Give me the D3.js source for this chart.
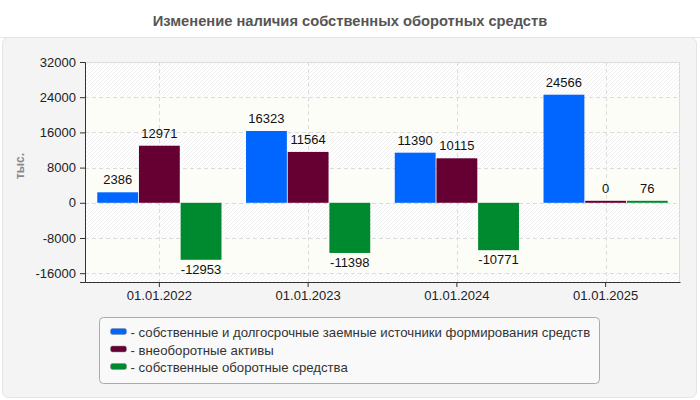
<!DOCTYPE html>
<html lang="ru">
<head>
<meta charset="UTF-8"/>
<title>Изменение наличия собственных оборотных средств</title>
<script src="https://d3js.org/d3.v7.min.js"></script>
<style>
    body { margin: 0; background: #fff; }
    svg { font-family: "Liberation Sans", Arial, sans-serif; display: block; }
</style>
</head>
<body>
<div id="chart"></div>
<script>
    // Data
    const dates = ["01.01.2022", "01.01.2023", "01.01.2024", "01.01.2025"];
    const seriesNames = [
        "собственные и долгосрочные заемные источники формирования средств",
        "внеоборотные активы",
        "собственные оборотные средства"
    ];
    const sourcesValues = [2386, 16323, 11390, 24566];
    const assetsValues = [12971, 11564, 10115, 0];
    const workingValues = [-12953, -11398, -10771, 76];
    const yTicks = [32000, 24000, 16000, 8000, 0, -8000, -16000];

    const colors = ["#0066ff", "#660033", "#008a30"];
    const allSeries = [sourcesValues, assetsValues, workingValues];

    const w = 700, h = 400;
    const margin = { top: 62, right: 20, bottom: 118, left: 85 };
    const innerW = 680 - margin.left;
    const innerH = 282 - margin.top;

    const svg = d3.select("#chart").append("svg")
        .attr("width", w)
        .attr("height", h);

    // hatch pattern for alternating bands
    const defs = svg.append("defs");
    const pat = defs.append("pattern")
        .attr("id", "hatch")
        .attr("patternUnits", "userSpaceOnUse")
        .attr("width", 4).attr("height", 4);
    pat.append("rect").attr("width", 4).attr("height", 4).attr("fill", "#ffffff");
    pat.append("path")
        .attr("d", "M-1,1 l2,-2 M0,4 l4,-4 M3,5 l2,-2")
        .attr("stroke", "#f0f0f0")
        .attr("stroke-width", 1);

    // outer panel
    svg.append("rect")
        .attr("x", 2.5).attr("y", 37.5)
        .attr("width", 694).attr("height", 360)
        .attr("rx", 6)
        .attr("fill", "#f4f4f4")
        .attr("stroke", "#e4e4e4");
    svg.append("line")
        .attr("x1", 0).attr("x2", w)
        .attr("y1", 37.5).attr("y2", 37.5)
        .attr("stroke", "#e4e4e4");

    // title
    svg.append("text")
        .attr("x", w / 2)
        .attr("y", 26)
        .attr("text-anchor", "middle")
        .attr("font-size", "14.7px")
        .attr("font-weight", "bold")
        .attr("fill", "#555")
        .text("Изменение наличия собственных оборотных средств");

    const chart = svg.append("g")
        .attr("transform", `translate(${margin.left}, ${margin.top})`);

    const x0 = d3.scaleBand()
        .domain(dates)
        .range([0, innerW])
        .paddingInner(0.165)
        .paddingOuter(0.0825);

    const x1 = d3.scaleBand()
        .domain(d3.range(allSeries.length))
        .range([0, x0.bandwidth()])
        .paddingInner(0.02);

    const y = d3.scaleLinear()
        .domain([-18000, 32000])
        .range([innerH, 0]);

    // background bands
    const bandEdges = [32000, 24000, 16000, 8000, 0, -8000, -16000, -18000];
    chart.selectAll(".band")
        .data(d3.pairs(bandEdges))
        .enter()
        .append("rect")
        .attr("class", "band")
        .attr("x", 0)
        .attr("y", d => y(d[0]))
        .attr("width", innerW)
        .attr("height", d => y(d[1]) - y(d[0]))
        .attr("fill", (d, i) => i % 2 === 0 ? "url(#hatch)" : "#fdfdf8");

    chart.append("line")
        .attr("x1", 0).attr("x2", innerW)
        .attr("y1", 0.5).attr("y2", 0.5)
        .attr("stroke", "#dcdcdc");
    chart.append("line")
        .attr("x1", innerW - 0.5).attr("x2", innerW - 0.5)
        .attr("y1", 0).attr("y2", innerH)
        .attr("stroke", "#dcdcdc");

    // dashed grid
    chart.selectAll(".hgrid")
        .data(yTicks.filter(t => t !== 32000))
        .enter()
        .append("line")
        .attr("class", "hgrid")
        .attr("x1", 0).attr("x2", innerW)
        .attr("y1", d => Math.round(y(d)) + 0.5)
        .attr("y2", d => Math.round(y(d)) + 0.5)
        .attr("stroke", "#dcdcdc")
        .attr("stroke-dasharray", "4,3");

    chart.selectAll(".vgrid")
        .data(dates)
        .enter()
        .append("line")
        .attr("class", "vgrid")
        .attr("x1", d => Math.round(x0(d) + x0.bandwidth() / 2) + 0.5)
        .attr("x2", d => Math.round(x0(d) + x0.bandwidth() / 2) + 0.5)
        .attr("y1", 0).attr("y2", innerH)
        .attr("stroke", "#dcdcdc")
        .attr("stroke-dasharray", "4,3");

    // bars
    const barData = [];
    dates.forEach((d, i) => {
        allSeries.forEach((s, j) => {
            barData.push({ date: d, series: j, value: s[i] });
        });
    });

    const barTop = d => d.value >= 0 ? Math.min(y(d.value), y(0) - 2) : y(0);
    const barBottom = d => d.value >= 0 ? y(0) : y(d.value);

    chart.selectAll(".bar")
        .data(barData)
        .enter()
        .append("rect")
        .attr("class", "bar")
        .attr("x", d => x0(d.date) + x1(d.series))
        .attr("y", barTop)
        .attr("width", x1.bandwidth())
        .attr("height", d => barBottom(d) - barTop(d))
        .attr("fill", d => colors[d.series]);

    chart.selectAll(".value-label")
        .data(barData)
        .enter()
        .append("text")
        .attr("class", "value-label")
        .attr("x", d => x0(d.date) + x1(d.series) + x1.bandwidth() / 2)
        .attr("y", d => d.value >= 0 ? barTop(d) - 8 : barBottom(d) + 14)
        .attr("text-anchor", "middle")
        .attr("font-size", "13px")
        .attr("fill", "#111")
        .text(d => String(d.value));

    // axes
    const yAxis = d3.axisLeft(y)
        .tickValues(yTicks)
        .tickSize(5)
        .tickFormat(d => String(d));
    const gy = chart.append("g").call(yAxis);
    gy.select(".domain").attr("stroke", "#333");
    gy.selectAll(".tick line").attr("stroke", "#333");
    gy.selectAll(".tick text")
        .attr("font-size", "13px")
        .attr("font-family", "Liberation Sans, Arial, sans-serif")
        .attr("fill", "#222")
        .attr("x", -9);

    const xAxis = d3.axisBottom(x0).tickSize(5).tickSizeOuter(0);
    const gx = chart.append("g")
        .attr("transform", `translate(0, ${innerH})`)
        .call(xAxis);
    gx.select(".domain").attr("stroke", "#333");
    gx.selectAll(".tick line").attr("stroke", "#333");
    gx.selectAll(".tick text")
        .attr("font-size", "13px")
        .attr("font-family", "Liberation Sans, Arial, sans-serif")
        .attr("fill", "#222")
        .attr("y", 9);

    // y axis title
    svg.append("text")
        .attr("transform", "translate(24, 166) rotate(-90)")
        .attr("text-anchor", "middle")
        .attr("font-size", "12px")
        .attr("font-weight", "bold")
        .attr("fill", "#888")
        .text("тыс.");

    // legend
    const legend = svg.append("g").attr("transform", "translate(99.5, 317.5)");
    legend.append("rect")
        .attr("width", 500).attr("height", 66)
        .attr("rx", 4)
        .attr("fill", "#f9f9f9")
        .attr("stroke", "#aaaaaa");

    const items = legend.selectAll(".item")
        .data(seriesNames)
        .enter()
        .append("g")
        .attr("class", "item")
        .attr("transform", (d, i) => `translate(0, ${15 + i * 17.5})`);
    items.append("rect")
        .attr("x", 11).attr("y", -4)
        .attr("width", 16).attr("height", 6)
        .attr("rx", 2)
        .attr("fill", (d, i) => colors[i])
        .attr("stroke", "#888")
        .attr("stroke-width", 0.5);
    items.append("text")
        .attr("x", 31).attr("y", 4.5)
        .attr("font-size", "13.2px")
        .attr("fill", "#333")
        .text(d => "- " + d);
</script>
</body>
</html>
